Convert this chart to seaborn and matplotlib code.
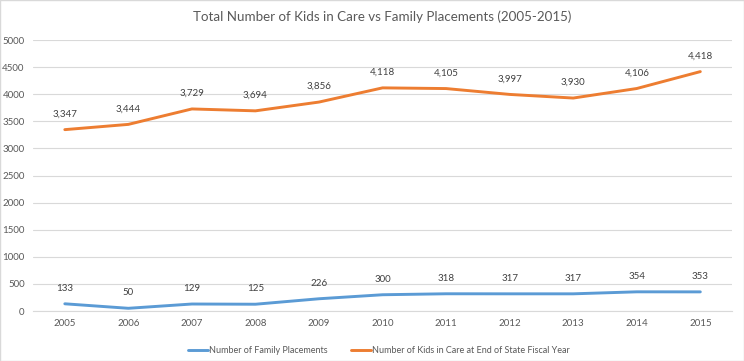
import numpy as np
import pandas as pd
import matplotlib.pyplot as plt
import seaborn as sns

years = [2005, 2006, 2007, 2008, 2009, 2010, 2011, 2012, 2013, 2014, 2015]
family_placements = [133, 50, 129, 125, 226, 300, 318, 317, 317, 354, 353]
kids_in_care = [3347, 3444, 3729, 3694, 3856, 4118, 4105, 3997, 3930, 4106, 4418]

lbl_family = "Number of Family Placements"
lbl_kids = "Number of Kids in Care at End of State Fiscal Year"

df = pd.DataFrame({
    "year": years * 2,
    "value": family_placements + kids_in_care,
    "series": [lbl_family] * len(years) + [lbl_kids] * len(years),
})

sns.set_style("white")
plt.rcParams["font.family"] = ["Lato", "DejaVu Sans"]
txt = "#595959"

fig = plt.figure(figsize=(7.44, 3.61), dpi=100)
ax = fig.add_axes([0.0444, 0.1385, 0.9396, 0.7505])

sns.lineplot(data=df, x="year", y="value", hue="series",
             palette={lbl_family: "#5B9BD5", lbl_kids: "#ED7D31"},
             linewidth=2.1, ax=ax, legend=True)

# data labels
for series_vals in (family_placements, kids_in_care):
    for x, v in zip(years, series_vals):
        ax.annotate(f"{v:,}", (x, v), xytext=(0, 8), textcoords="offset points",
                    ha="center", va="bottom", fontsize=7, color="#404040")

ax.set_xlim(2004.5, 2015.5)
ax.set_ylim(0, 5000)
ax.set_yticks(range(0, 5001, 500))
ax.set_xticks(years)
ax.set_xticklabels([str(y) for y in years])
ax.yaxis.grid(True, color="#D9D9D9", linewidth=0.8)
ax.set_axisbelow(True)
for s in ["top", "right", "left"]:
    ax.spines[s].set_visible(False)
ax.spines["bottom"].set_color("#D9D9D9")
ax.tick_params(axis="both", length=0, labelsize=7, colors=txt, pad=6)
ax.set_xlabel("")
ax.set_ylabel("")

ax.set_title("Total Number of Kids in Care vs Family Placements (2005-2015)",
             fontsize=9.6, color=txt, pad=14)

ax.legend(loc="upper center", bbox_to_anchor=(0.495, -0.1), ncol=2, frameon=False,
          fontsize=6.5, labelcolor=txt, handlelength=2.2, handletextpad=0.1,
          columnspacing=2.6)

fig.patches.append(plt.Rectangle((0, 0), 1, 1, transform=fig.transFigure,
                                 fill=False, edgecolor="#D9D9D9", linewidth=1))

plt.savefig("out.png", dpi=100)
